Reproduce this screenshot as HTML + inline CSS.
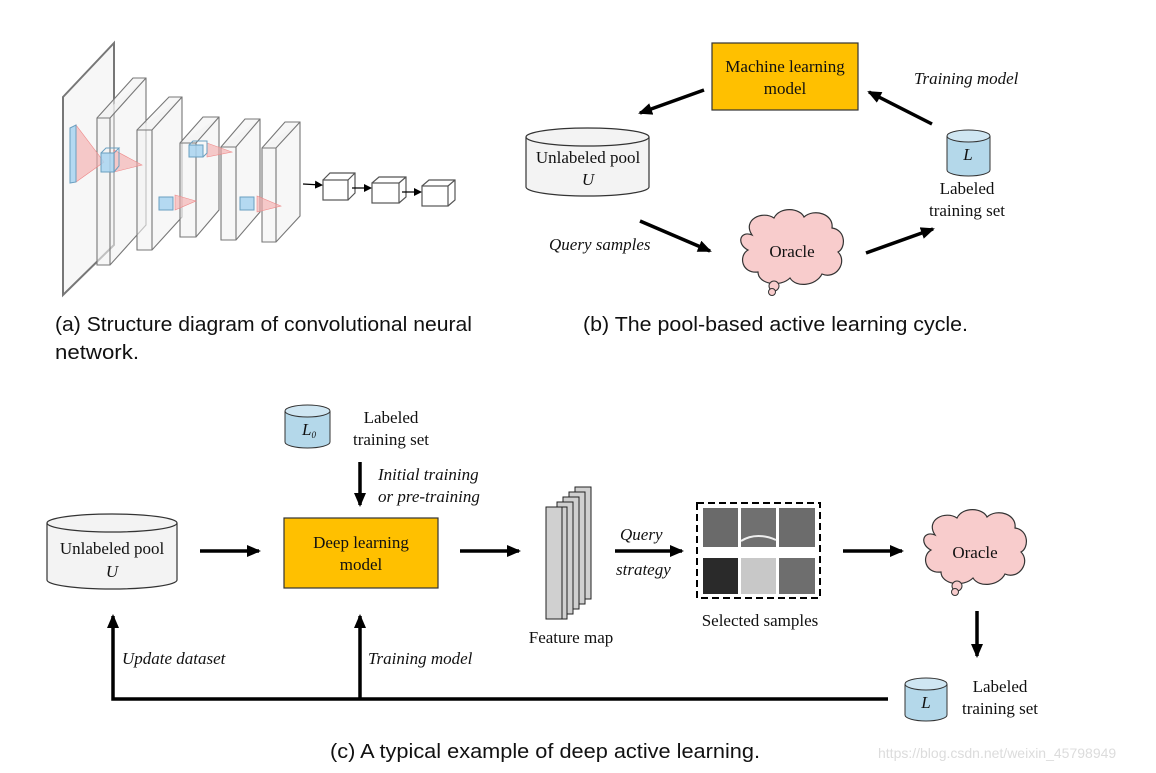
<!DOCTYPE html>
<html><head><meta charset="utf-8"><style>
body{margin:0;background:#fff}
svg{display:block}
.s{font-family:"Liberation Serif",serif;font-size:17px;fill:#111}
.i{font-style:italic}
.c{font-family:"Liberation Sans",sans-serif;font-size:20px;fill:#111}
</style></head><body>
<svg width="1156" height="773" viewBox="0 0 1156 773" xmlns="http://www.w3.org/2000/svg">
<defs>
<marker id="ah" markerWidth="8" markerHeight="8" refX="6" refY="4" orient="auto" markerUnits="userSpaceOnUse"><path d="M0,0 L8,4 L0,8 z" fill="#000"/></marker>
<marker id="a2" markerWidth="14" markerHeight="12" refX="12" refY="6" orient="auto" markerUnits="userSpaceOnUse"><path d="M0,0 L14,6 L0,12 z" fill="#000"/></marker>
<g id="cloud"><path d="M-40,-15 C-50,-30 -30,-40 -18,-32 C-12,-44 8,-42 12,-33 C22,-42 42,-36 40,-22 C54,-20 54,-2 46,2 C56,12 44,30 30,24 C24,36 4,38 -2,28 C-12,38 -34,34 -34,22 C-50,24 -54,6 -44,0 C-56,-6 -52,-20 -40,-15 z" fill="#f8cccc" stroke="#333" stroke-width="1.2"/>
<circle cx="-18" cy="36" r="5" fill="#f8cccc" stroke="#333"/><circle cx="-20" cy="42" r="3.5" fill="#f8cccc" stroke="#333"/></g>
</defs>

<!-- (a) CNN -->
<g stroke="#777" stroke-width="1.1" fill="#f2f2f2" fill-opacity="0.6">
<path d="M63,97 L114,43 L114,245 L63,295 z" stroke-width="2"/>
<path d="M97,118 L133,78 L146,78 L146,225 L110,265 L97,265 z"/><path d="M97,118 L110,118 L146,78 M110,118 L110,265"/>
<path d="M137,130 L169,97 L182,97 L182,217 L152,250 L137,250 z"/><path d="M137,130 L152,130 L182,97 M152,130 L152,250"/>
<path d="M180,143 L203,117 L219,117 L219,210 L196,237 L180,237 z"/><path d="M180,143 L196,143 L219,117 M196,143 L196,237"/>
<path d="M221,147 L245,119 L260,119 L260,212 L236,240 L221,240 z"/><path d="M221,147 L236,147 L260,119 M236,147 L236,240"/>
<path d="M262,148 L285,122 L300,122 L300,216 L276,242 L262,242 z"/><path d="M262,148 L276,148 L300,122 M276,148 L276,242"/>
</g>
<g fill="#f4a8a8" fill-opacity="0.6" stroke="#e88" stroke-width="0.6">
<path d="M76,125 L76,182 L104,162 z"/>
<path d="M114,150 L114,172 L142,165 z"/>
<path d="M207,143 L207,157 L232,152 z"/>
<path d="M175,195 L175,210 L196,201 z"/>
<path d="M257,196 L257,212 L281,206 z"/>
</g>
<g fill="#a8d4f0" stroke="#6a9fc0" stroke-width="1" fill-opacity="0.85">
<path d="M70,128 L76,125 L76,182 L70,183 z"/>
<rect x="101" y="153" width="13" height="19"/><path d="M101,153 L106,148 L119,148 L114,153 M114,172 L119,166 L119,148" fill="none"/>
<rect x="189" y="145" width="14" height="12"/><path d="M189,145 L193,141 L207,141 L207,153 L203,157" fill="none"/>
<rect x="159" y="197" width="14" height="13"/>
<rect x="240" y="197" width="14" height="13"/>
</g>
<g stroke="#555" stroke-width="1.2" fill="none">
<rect x="323" y="180" width="25" height="20"/><path d="M323,180 L330,173 L355,173 L355,193 L348,200 M348,180 L355,173"/>
<rect x="372" y="183" width="27" height="20"/><path d="M372,183 L379,177 L406,177 L406,197 L399,203 M399,183 L406,177"/>
<rect x="422" y="186" width="26" height="20"/><path d="M422,186 L429,180 L455,180 L455,200 L448,206 M448,186 L455,180"/>
</g>
<g stroke="#000" stroke-width="1.2" marker-end="url(#ah)">
<line x1="303" y1="184" x2="321" y2="185"/><line x1="352" y1="188" x2="370" y2="188"/><line x1="402" y1="192" x2="420" y2="192"/>
</g>
<text x="55" y="331" class="c" textLength="417" lengthAdjust="spacingAndGlyphs">(a) Structure diagram of convolutional neural</text>
<text x="55" y="359" class="c" textLength="84" lengthAdjust="spacingAndGlyphs">network.</text>

<!-- (b) -->
<rect x="712" y="43" width="146" height="67" fill="#ffc000" stroke="#333" stroke-width="1.2"/>
<text x="785" y="72" class="s" text-anchor="middle">Machine learning</text>
<text x="785" y="94" class="s" text-anchor="middle">model</text>
<path d="M526,137 L526,187 A61.5,9 0 0 0 649,187 L649,137" fill="#f3f3f3" stroke="#333" stroke-width="1.2"/>
<ellipse cx="587.5" cy="137" rx="61.5" ry="9" fill="#f3f3f3" stroke="#333" stroke-width="1.2"/>
<text x="588" y="163" class="s" text-anchor="middle">Unlabeled pool</text>
<text x="588" y="185" class="s i" text-anchor="middle" font-size="15">U</text>
<path d="M947,136 L947,170 A21.5,6 0 0 0 990,170 L990,136" fill="#b4d8ea" stroke="#333"/>
<ellipse cx="968.5" cy="136" rx="21.5" ry="6" fill="#cfe6f2" stroke="#333"/>
<text x="968" y="160" class="s i" text-anchor="middle" font-size="14">L</text>
<text x="967" y="194" class="s" text-anchor="middle">Labeled</text>
<text x="967" y="216" class="s" text-anchor="middle">training set</text>
<text x="914" y="84" class="s i">Training model</text>
<text x="549" y="250" class="s i">Query samples</text>
<use href="#cloud" x="792" y="250"/>
<text x="792" y="257" class="s" text-anchor="middle">Oracle</text>
<g stroke="#000" stroke-width="3.5" marker-end="url(#a2)">
<line x1="704" y1="90" x2="640" y2="113"/>
<line x1="932" y1="124" x2="869" y2="92"/>
<line x1="640" y1="221" x2="710" y2="251"/>
<line x1="866" y1="253" x2="933" y2="229"/>
</g>
<text x="583" y="331" class="c" textLength="385" lengthAdjust="spacingAndGlyphs">(b) The pool-based active learning cycle.</text>

<!-- (c) -->
<path d="M285,411 L285,442 A22.5,6 0 0 0 330,442 L330,411" fill="#b4d8ea" stroke="#333"/>
<ellipse cx="307.5" cy="411" rx="22.5" ry="6" fill="#cfe6f2" stroke="#333"/>
<text x="302" y="435" class="s i" font-size="14">L<tspan font-size="9" dy="3">0</tspan></text>
<text x="391" y="423" class="s" text-anchor="middle">Labeled</text>
<text x="391" y="445" class="s" text-anchor="middle">training set</text>
<text x="378" y="480" class="s i">Initial training</text>
<text x="378" y="502" class="s i">or pre-training</text>

<path d="M47,523 L47,580 A65,9 0 0 0 177,580 L177,523" fill="#f3f3f3" stroke="#333" stroke-width="1.2"/>
<ellipse cx="112" cy="523" rx="65" ry="9" fill="#f3f3f3" stroke="#333" stroke-width="1.2"/>
<text x="112" y="554" class="s" text-anchor="middle">Unlabeled pool</text>
<text x="112" y="577" class="s i" text-anchor="middle" font-size="15">U</text>

<rect x="284" y="518" width="154" height="70" fill="#ffc000" stroke="#333" stroke-width="1.2"/>
<text x="361" y="548" class="s" text-anchor="middle">Deep learning</text>
<text x="361" y="570" class="s" text-anchor="middle">model</text>

<g fill="#d0d0d0" stroke="#222" stroke-width="1">
<rect x="575" y="487" width="16" height="112"/>
<rect x="569" y="492" width="16" height="112"/>
<rect x="563" y="497" width="16" height="112"/>
<rect x="557" y="502" width="16" height="112"/>
<rect x="551" y="507" width="16" height="112"/>
<rect x="546" y="507" width="16" height="112"/>
</g>
<text x="571" y="643" class="s" text-anchor="middle">Feature map</text>
<text x="620" y="540" class="s i">Query</text>
<text x="616" y="575" class="s i">strategy</text>

<rect x="697" y="503" width="123" height="95" fill="none" stroke="#000" stroke-width="2" stroke-dasharray="7,4"/>
<rect x="703" y="508" width="35" height="39" fill="#6a6a6a"/>
<rect x="741" y="508" width="35" height="39" fill="#707070"/>
<path d="M741,541 C752,534 765,535 776,540" stroke="#eee" stroke-width="2" fill="none"/>
<rect x="779" y="508" width="36" height="39" fill="#6c6c6c"/>
<rect x="703" y="558" width="35" height="36" fill="#2a2a2a"/>
<rect x="741" y="558" width="35" height="36" fill="#c8c8c8"/>
<rect x="779" y="558" width="36" height="36" fill="#6e6e6e"/>
<text x="760" y="626" class="s" text-anchor="middle">Selected samples</text>

<use href="#cloud" x="975" y="550"/>
<text x="975" y="558" class="s" text-anchor="middle">Oracle</text>

<path d="M905,684 L905,715 A21,6 0 0 0 947,715 L947,684" fill="#b4d8ea" stroke="#333"/>
<ellipse cx="926" cy="684" rx="21" ry="6" fill="#cfe6f2" stroke="#333"/>
<text x="926" y="708" class="s i" text-anchor="middle" font-size="14">L</text>
<text x="1000" y="692" class="s" text-anchor="middle">Labeled</text>
<text x="1000" y="714" class="s" text-anchor="middle">training set</text>

<g stroke="#000" stroke-width="3.5" fill="none">
<path d="M888,699 L113,699 L113,616" marker-end="url(#a2)"/>
<line x1="360" y1="699" x2="360" y2="616" marker-end="url(#a2)"/>
<line x1="360" y1="462" x2="360" y2="505" marker-end="url(#a2)"/>
<line x1="200" y1="551" x2="259" y2="551" marker-end="url(#a2)"/>
<line x1="460" y1="551" x2="519" y2="551" marker-end="url(#a2)"/>
<line x1="615" y1="551" x2="682" y2="551" marker-end="url(#a2)"/>
<line x1="843" y1="551" x2="902" y2="551" marker-end="url(#a2)"/>
<line x1="977" y1="611" x2="977" y2="656" marker-end="url(#a2)"/>
</g>
<text x="122" y="664" class="s i">Update dataset</text>
<text x="368" y="664" class="s i">Training model</text>
<text x="330" y="758" class="c" textLength="430" lengthAdjust="spacingAndGlyphs">(c) A typical example of deep active learning.</text>
<text x="878" y="758" font-family="Liberation Sans,sans-serif" font-size="14" fill="#dcdcdc">https://blog.csdn.net/weixin_45798949</text>
</svg>
</body></html>
